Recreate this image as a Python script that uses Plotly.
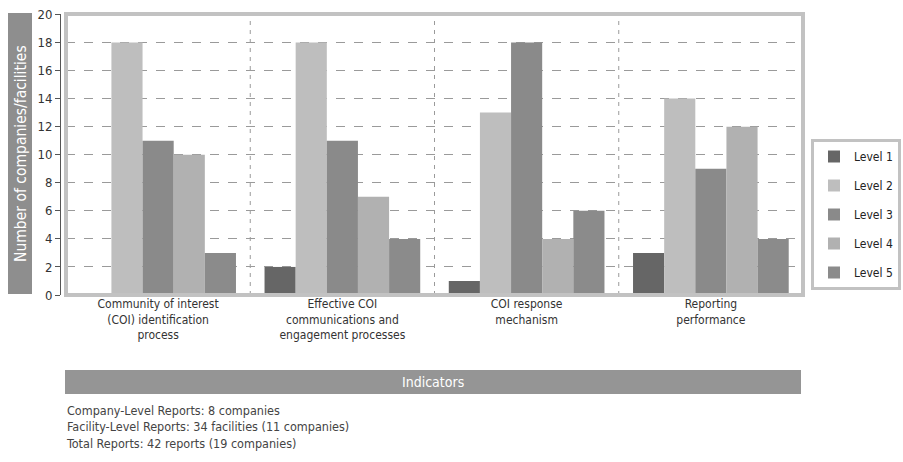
import plotly.graph_objects as go

categories = [
    "Community of interest<br>(COI) identification<br>process",
    "Effective COI<br>communications and<br>engagement processes",
    "COI response<br>mechanism",
    "Reporting<br>performance",
]
series_names = ["Level 1", "Level 2", "Level 3", "Level 4", "Level 5"]
level1 = [0, 2, 1, 3]
level2 = [18, 18, 13, 14]
level3 = [11, 11, 18, 9]
level4 = [10, 7, 4, 12]
level5 = [3, 4, 6, 4]
series_values = [level1, level2, level3, level4, level5]
colors = ["#666666", "#bebebe", "#8a8a8a", "#b1b1b1", "#8b8b8b"]
y_ticks = [0, 2, 4, 6, 8, 10, 12, 14, 16, 18, 20]
y_title = "Number of companies/facilities"
x_title = "Indicators"
notes = [
    "Company-Level Reports: 8 companies",
    "Facility-Level Reports: 34 facilities (11 companies)",
    "Total Reports: 42 reports (19 companies)",
]

FONT = "DejaVu Sans Condensed, Liberation Sans Narrow, sans-serif"
W, H = 903, 462
ML, MR, MT, MB = 60, 100, 14, 167
PW = W - ML - MR
PH = H - MT - MB


def px_x(x):
    return (x - ML) / PW


def px_y(y):
    return (H - MB - y) / PH


fig = go.Figure()
for i, (name, vals) in enumerate(zip(series_names, series_values)):
    fig.add_trace(go.Bar(
        x=list(range(len(categories))), y=vals, name=name,
        marker=dict(color=colors[i], line=dict(width=0)),
        legendgroup=name,
    ))

fig.update_layout(
    template="none",
    width=W, height=H,
    margin=dict(l=ML, r=MR, t=MT, b=MB, autoexpand=False),
    paper_bgcolor="white", plot_bgcolor="white",
    barmode="group", bargap=0.155, bargroupgap=0,
    font=dict(family=FONT, size=12, color="#333333"),
    showlegend=True,
    legend=dict(
        xref="container", yref="container",
        x=811 / W, y=1 - 139 / H, xanchor="left", yanchor="top",
        bordercolor="#c2c2c2", borderwidth=3, bgcolor="white",
        font=dict(family=FONT, size=12, color="#222222"),
        traceorder="grouped", tracegroupgap=10,
        itemwidth=30,
    ),
    xaxis=dict(
        domain=[px_x(66), 1], range=[-0.5, 3.5], automargin=False,
        tickmode="array", tickvals=list(range(len(categories))), ticktext=categories,
        showgrid=False, zeroline=False, showline=False, ticks="",
        tickfont=dict(family=FONT, size=12, color="#333333"),
        fixedrange=True,
    ),
    yaxis=dict(
        anchor="free", position=0, range=[0, 20.03], automargin=False,
        tickmode="array", tickvals=y_ticks,
        showline=True, linecolor="#555555", linewidth=1,
        ticks="outside", ticklen=5, tickcolor="#555555",
        showgrid=True, gridcolor="#9a9a9a", griddash="dash", gridwidth=1,
        zeroline=False,
        tickfont=dict(family=FONT, size=13, color="#333333"),
        fixedrange=True,
    ),
)

shapes = []
for xv in [0.5, 1.5, 2.5]:
    shapes.append(dict(type="line", xref="x", yref="paper", x0=xv, x1=xv, y0=0, y1=1,
                       line=dict(color="#9a9a9a", width=1, dash="4px,5px"), layer="below"))
shapes.append(dict(type="rect", xref="paper", yref="paper", x0=px_x(66), x1=1, y0=0, y1=1,
                   line=dict(color="#c2c2c2", width=4), fillcolor="rgba(0,0,0,0)"))
shapes.append(dict(type="rect", xref="paper", yref="paper", x0=px_x(8), x1=px_x(32),
                   y0=px_y(294), y1=px_y(13), line=dict(width=0), fillcolor="#8e8e8e"))
shapes.append(dict(type="rect", xref="paper", yref="paper", x0=px_x(65), x1=px_x(801),
                   y0=px_y(394), y1=px_y(370), line=dict(width=0), fillcolor="#959595"))
fig.update_layout(shapes=shapes)

annotations = [
    dict(text=y_title, xref="paper", yref="paper", x=px_x(20.5), y=px_y(153.5),
         showarrow=False, textangle=-90, xanchor="center", yanchor="middle",
         font=dict(family=FONT, size=15.5, color="white")),
    dict(text=x_title, xref="paper", yref="paper", x=px_x(433), y=px_y(382),
         showarrow=False, xanchor="center", yanchor="middle",
         font=dict(family=FONT, size=14, color="white")),
    dict(text="<br>".join(notes), xref="paper", yref="paper", x=px_x(64), y=px_y(401),
         showarrow=False, xanchor="left", yanchor="top", align="left",
         font=dict(family=FONT, size=12.5, color="#444444")),
]
fig.update_layout(annotations=annotations)

fig.write_html(
    "out.html",
    config={"displayModeBar": False},
    post_script="document.body.style.margin='0';document.body.style.overflow='hidden';",
)
